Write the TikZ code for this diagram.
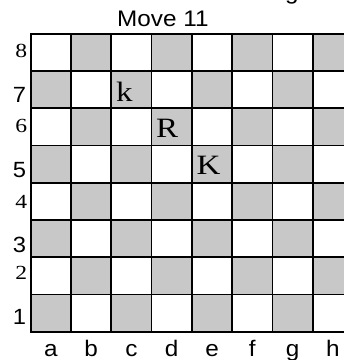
\documentclass[tikz,border=0pt]{standalone}
\usepackage{fontspec}
\setmainfont{Liberation Serif}[FakeStretch=1.18]
\setsansfont{Liberation Sans}[FakeStretch=1.08]
\usetikzlibrary{positioning,calc}
\definecolor{darksq}{RGB}{200,200,200}
\tikzstyle{square} = [draw, line width=1.8pt, rectangle, minimum width=40.3pt, minimum height=37.25pt, inner sep=0pt, outer sep=0pt]
\tikzstyle{dark} = [square, fill=darksq]
\tikzstyle{light} = [square, fill=white]
\tikzstyle{piece} = [font=\fontsize{28}{28}\selectfont\rmfamily, inner sep=0pt, anchor=base west]
\tikzstyle{rankser} = [font=\fontsize{20}{20}\selectfont\rmfamily, inner sep=0pt, anchor=base east]
\tikzstyle{ranksans} = [font=\fontsize{22}{22}\selectfont\sffamily, inner sep=0pt, anchor=base east]
\tikzstyle{filelbl} = [font=\fontsize{22.5}{22.5}\selectfont\sffamily, inner sep=0pt, anchor=base]
\tikzstyle{title} = [font=\fontsize{22.5}{22.5}\selectfont\sffamily, inner sep=0pt, anchor=base]

\begin{document}
\begin{tikzpicture}[x=1pt, y=1pt]
    \useasboundingbox (0,0) rectangle (344,360);
    % Board
    \foreach \f [count=\i] in {a,b,c,d,e,f,g,h} {
        \foreach \r in {1,...,8} {
            \pgfmathtruncatemacro{\parity}{mod(\i+\r,2)}
            \ifnum\parity=0 \def\sq{dark}\else\def\sq{light}\fi
            \node [\sq] (\f\r) at ({30.7+40.3*(\i-0.5)}, {28.3+37.25*(\r-0.5)}) {};
        }
    }

    % Pieces
    \node [piece] (bk) at ([xshift=4.6pt, yshift=6.9pt]c7.south west) {k};
    \node [piece] (wr) at ([xshift=4.4pt, yshift=7.7pt]d6.south west) {R};
    \node [piece] (wk) at ([xshift=4.6pt, yshift=8.3pt]e5.south west) {K};

    % Ranks
    \node [rankser] (r8) at ([xshift=-3.2pt, yshift=13pt]a8.south west) {8};
    \node [ranksans] (r7) at ([xshift=-4.4pt, yshift=6pt]a7.south west) {7};
    \node [rankser] (r6) at ([xshift=-3.2pt, yshift=13pt]a6.south west) {6};
    \node [ranksans] (r5) at ([xshift=-4.4pt, yshift=5pt]a5.south west) {5};
    \node [rankser] (r4) at ([xshift=-3.2pt, yshift=11.7pt]a4.south west) {4};
    \node [ranksans] (r3) at ([xshift=-4.4pt, yshift=5pt]a3.south west) {3};
    \node [rankser] (r2) at ([xshift=-3.2pt, yshift=15pt]a2.south west) {2};
    \node [ranksans] (r1) at ([xshift=-4.4pt, yshift=6.7pt]a1.south west) {1};

    % Files
    \foreach \f in {a,b,c,d,e,f,g,h}
        \node [filelbl] (file\f) at ([yshift=-24.8pt]\f1.south) {\f};

    % Title
    \node [title] (title) at ([xshift=-29pt, yshift=7pt]d8.north east) {Move 11};
    \node [title] (cut) at ([xshift=19.5pt]g8.north west |- 0,360.5) {g};
\end{tikzpicture}
\end{document}
